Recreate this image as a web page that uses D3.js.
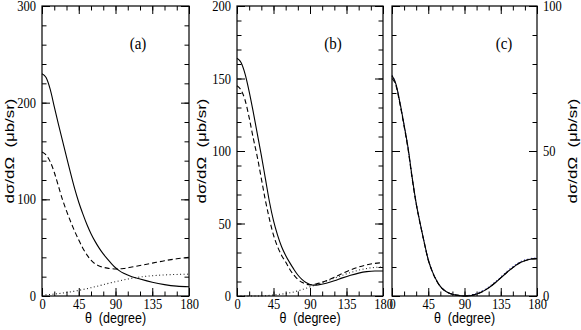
<!DOCTYPE html>
<html>
<head>
<meta charset="utf-8">
<script src="https://cdn.jsdelivr.net/npm/d3@7"></script>
<style>
  body { margin: 0; background: #fff; }
</style>
</head>
<body>
<div id="chart"></div>
<script>
// scattering angle grids (degree)
const thetaA = [0, 5, 10, 15, 20, 25, 30, 35, 40, 45, 50, 55, 60, 65, 70, 75, 80, 85, 90, 95, 100, 110, 120, 135, 150, 165, 180]
const thetaB = [0, 5, 10, 15, 20, 25, 30, 35, 40, 45, 50, 55, 60, 65, 70, 75, 80, 85, 90, 95, 100, 110, 120, 130, 140, 150, 160, 170, 180]
const thetaC = thetaB

// panel (a)
const aSolid = [230, 226, 214, 196, 178, 161, 144, 127, 111, 97, 85, 74, 64.5, 56.5, 49.5, 43.5, 38.3, 33.5, 29.2, 26, 23.5, 20, 17.5, 14.2, 11.8, 10.2, 9.5]
const aDashed = [149, 146, 139, 128, 114, 100, 88, 77, 67, 58, 49.5, 42.5, 37, 33.3, 31, 29.7, 28.8, 28.3, 28, 28.1, 28.5, 30, 31.5, 34, 36.5, 38.5, 40]
const aDotted = [1, 1.2, 1.5, 2, 2.5, 3, 3.6, 4.3, 5, 5.8, 6.7, 7.6, 8.6, 9.6, 10.6, 11.7, 12.8, 13.8, 14.8, 15.8, 16.7, 18.3, 19.6, 21, 21.8, 22.3, 22.6]

// panel (b)
const bSolid = [164, 161, 153, 141, 127, 112, 97, 81, 65, 52, 42, 34, 28, 23, 18.5, 14.5, 11.5, 9.3, 8, 7.5, 7.7, 8.8, 10.5, 12.5, 14.3, 15.8, 16.8, 17.2, 17.2]
const bDashed = [145, 142, 135, 123, 109, 96, 81, 66, 53, 42, 34, 28, 23.5, 18.5, 14.5, 11.5, 9.5, 8.2, 7.7, 8, 8.7, 10.5, 13, 15.5, 18, 20, 21.5, 22.5, 23]
const bDotted = [0, 0, 0, 0, 0, 0, 0.1, 0.2, 0.4, 0.7, 1, 1.3, 1.7, 2.2, 2.8, 3.5, 4.4, 5.3, 6.3, 7.3, 8.3, 10.3, 12.3, 14.3, 16.2, 17.8, 19, 19.7, 20]

// panel (c)
const cSolid = [76, 73, 66.5, 59, 51, 41, 32, 25, 18.5, 12.5, 8.5, 5.5, 3.3, 2, 1.1, 0.6, 0.3, 0.1, 0, 0.05, 0.3, 1.2, 2.8, 5, 7.5, 9.8, 11.6, 12.6, 12.9]
const cDashed = [75, 72.5, 66, 58.5, 50.5, 40.5, 31.8, 24.8, 18.4, 12.4, 8.4, 5.4, 3.2, 1.9, 1.1, 0.6, 0.3, 0.1, 0, 0.05, 0.3, 1.2, 2.8, 5, 7.5, 9.8, 11.6, 12.6, 12.9]
const cDotted = [76, 73, 66.5, 59, 51, 41, 32, 25, 18.5, 12.5, 8.5, 5.5, 3.3, 2, 1.1, 0.6, 0.3, 0.1, 0.05, 0.2, 0.5, 1.5, 3.1, 5.3, 7.8, 10.1, 11.9, 12.8, 13.1]

// tick values
const xTicks = [0, 45, 90, 135, 180]
const xMinor = d3.range(0, 181, 15)
const yTicksA = [0, 100, 200, 300]
const yMinorA = d3.range(0, 301, 20)
const yTicksB = [0, 50, 100, 150, 200]
const yMinorB = d3.range(0, 201, 10)
const yTicksC = [0, 50, 100]
const yMinorC = d3.range(0, 101, 10)

const width = 581
const height = 330
const plotTop = 6
const plotBottom = 296

const serif = "'Liberation Serif', 'Times New Roman', 'DejaVu Serif', serif"
const sans = "'Liberation Sans', Arial, 'DejaVu Sans', sans-serif"
const dash = { solid: null, dashed: "5,3", dotted: "1,2.5" }

const panels = [
  { label: "(a)", left: 42, right: 189, yMax: 300, yTicks: yTicksA, yMinor: yMinorA, side: "left", titleX: 10, labelX: 138,
    series: [
      { theta: thetaA, values: aDotted, style: "dotted", color: "#222" },
      { theta: thetaA, values: aDashed, style: "dashed", color: "#000" },
      { theta: thetaA, values: aSolid, style: "solid", color: "#000" }
    ] },
  { label: "(b)", left: 237, right: 383, yMax: 200, yTicks: yTicksB, yMinor: yMinorB, side: "left", titleX: 202, labelX: 333,
    series: [
      { theta: thetaB, values: bDotted, style: "dotted", color: "#222" },
      { theta: thetaB, values: bDashed, style: "dashed", color: "#000" },
      { theta: thetaB, values: bSolid, style: "solid", color: "#000" }
    ] },
  { label: "(c)", left: 392, right: 537, yMax: 100, yTicks: yTicksC, yMinor: yMinorC, side: "right", titleX: 573, labelX: 504,
    series: [
      { theta: thetaC, values: cDotted, style: "dotted", color: "#2a2ab0" },
      { theta: thetaC, values: cDashed, style: "dashed", color: "#000" },
      { theta: thetaC, values: cSolid, style: "solid", color: "#000" }
    ] }
]

const svg = d3.select("#chart").append("svg").attr("width", width).attr("height", height)
svg.append("rect").attr("width", width).attr("height", height).attr("fill", "#fff")

// tick labels in the picture look a bit tall and narrow
function styleTicks(g, withText) {
  g.select(".domain").remove()
  g.selectAll(".tick line").attr("stroke", "#000").attr("stroke-width", 1)
  g.attr("font-family", serif).attr("font-size", 12.5)
  g.selectAll(".tick text").attr("fill", "#000").attr("transform", "scale(1,1.15)")
  if (!withText) g.selectAll(".tick text").remove()
}

panels.forEach((p) => {
  const x = d3.scaleLinear().domain([0, 180]).range([p.left, p.right])
  const y = d3.scaleLinear().domain([0, p.yMax]).range([plotBottom, plotTop])

  // minor ticks, all four sides, pointing inward
  svg.append("g").attr("transform", `translate(0,${plotBottom})`)
    .call(d3.axisBottom(x).tickValues(xMinor).tickSize(-4.5).tickFormat(""))
    .call(styleTicks, false)
  svg.append("g").attr("transform", `translate(0,${plotTop})`)
    .call(d3.axisTop(x).tickValues(xMinor).tickSize(-4.5).tickFormat(""))
    .call(styleTicks, false)
  svg.append("g").attr("transform", `translate(${p.left},0)`)
    .call(d3.axisLeft(y).tickValues(p.yMinor).tickSize(-4.5).tickFormat(""))
    .call(styleTicks, false)
  svg.append("g").attr("transform", `translate(${p.right},0)`)
    .call(d3.axisRight(y).tickValues(p.yMinor).tickSize(-4.5).tickFormat(""))
    .call(styleTicks, false)

  // major ticks
  svg.append("g").attr("transform", `translate(0,${plotBottom})`)
    .call(d3.axisBottom(x).tickValues(xTicks).tickSize(-8).tickPadding(2))
    .call(styleTicks, true)
  svg.append("g").attr("transform", `translate(0,${plotTop})`)
    .call(d3.axisTop(x).tickValues(xTicks).tickSize(-8))
    .call(styleTicks, false)
  svg.append("g").attr("transform", `translate(${p.left},0)`)
    .call(d3.axisLeft(y).tickValues(p.yTicks).tickSize(-8).tickPadding(6))
    .call(styleTicks, p.side === "left")
  svg.append("g").attr("transform", `translate(${p.right},0)`)
    .call(d3.axisRight(y).tickValues(p.yTicks).tickSize(-8).tickPadding(6))
    .call(styleTicks, p.side === "right")

  // curves
  const line = d3.line().x((d) => x(d[0])).y((d) => y(d[1])).curve(d3.curveMonotoneX)
  p.series.forEach((s) => {
    svg.append("path")
      .datum(s.theta.map((t, i) => [t, s.values[i]]))
      .attr("fill", "none")
      .attr("stroke", s.color)
      .attr("stroke-width", 1.1)
      .attr("stroke-dasharray", dash[s.style])
      .attr("d", line)
  })

  // frame
  svg.append("rect")
    .attr("x", p.left).attr("y", plotTop)
    .attr("width", p.right - p.left).attr("height", plotBottom - plotTop)
    .attr("fill", "none").attr("stroke", "#000").attr("stroke-width", 1.2)

  // panel label
  svg.append("text")
    .attr("transform", `translate(${p.labelX},49) scale(1,1.1)`)
    .attr("text-anchor", "middle")
    .attr("font-family", serif)
    .attr("font-size", 15)
    .text(p.label)

  // axis titles
  svg.append("text")
    .attr("transform", `translate(${(p.left + p.right) / 2},323) scale(1,1.15)`)
    .attr("text-anchor", "middle")
    .attr("font-family", sans)
    .attr("font-size", 12.5)
    .style("white-space", "pre")
    .text("θ  (degree)")
  svg.append("text")
    .attr("transform", `translate(${p.titleX},151) rotate(-90) scale(1.35,1)`)
    .attr("text-anchor", "middle")
    .attr("dy", "0.35em")
    .attr("font-family", sans)
    .attr("font-size", 12.5)
    .style("white-space", "pre")
    .text("dσ/dΩ  (μb/sr)")
})
</script>
</body>
</html>
